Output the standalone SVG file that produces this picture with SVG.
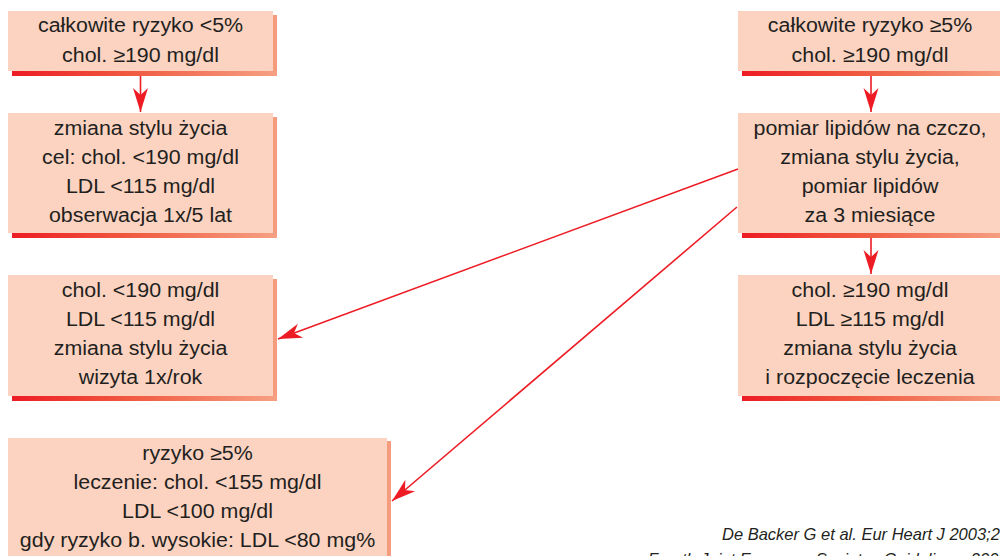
<svg xmlns="http://www.w3.org/2000/svg" width="1000" height="556" viewBox="0 0 1000 556">
<defs>
<linearGradient id="shade" x1="0" y1="0" x2="1" y2="0">
<stop offset="0" stop-color="#ed1c24"/>
<stop offset="0.45" stop-color="#f05a40"/>
<stop offset="1" stop-color="#f6a083"/>
</linearGradient>
<marker id="arr" markerUnits="userSpaceOnUse" markerWidth="30" markerHeight="20" viewBox="-26 -10 30 20" refX="0" refY="0" orient="auto">
<path d="M0,0 L-24,-7.5 L-17,0 L-24,7.5 Z" fill="#ed1c24"/>
</marker>
<style>
.box{fill:#fbd3c0}
.sr{fill:#f69c7e}
.sb{fill:url(#shade)}
.t{font-family:"Liberation Sans",Arial,sans-serif;font-size:20px;fill:#231f20;text-anchor:middle}
.ln{stroke:#ed1c24;stroke-width:1.6;fill:none;marker-end:url(#arr)}
.fn{font-family:"Liberation Sans",Arial,sans-serif;font-size:16.5px;font-style:italic;fill:#231f20}
</style>
</defs>
<rect width="1000" height="556" fill="#ffffff"/>

<g id="connectors">
<line class="ln" x1="140.5" y1="76" x2="140.5" y2="112"/>
<line class="ln" x1="871" y1="76" x2="871" y2="112"/>
<line class="ln" x1="871" y1="238" x2="871" y2="274"/>
<line class="ln" x1="738" y1="169" x2="278" y2="339"/>
<line class="ln" x1="737" y1="207" x2="392" y2="501"/>
</g>

<g id="n1">
<rect class="sr" x="273" y="15" width="4" height="61"/>
<rect class="sb" x="12" y="71" width="265" height="5"/>
<rect class="box" x="8" y="11" width="265" height="60"/>
<g transform="translate(140.5 0) scale(1.07 1)">
<text class="t" x="0" y="32">całkowite ryzyko &lt;5%</text>
<text class="t" x="0" y="62">chol. ≥190 mg/dl</text>
</g>
</g>

<g id="n2">
<rect class="sr" x="273" y="117" width="4" height="121"/>
<rect class="sb" x="12" y="233" width="265" height="5"/>
<rect class="box" x="8" y="113" width="265" height="120"/>
<g transform="translate(140.5 0) scale(1.07 1)">
<text class="t" x="0" y="135">zmiana stylu życia</text>
<text class="t" x="0" y="164">cel: chol. &lt;190 mg/dl</text>
<text class="t" x="0" y="193">LDL &lt;115 mg/dl</text>
<text class="t" x="0" y="222">obserwacja 1x/5 lat</text>
</g>
</g>

<g id="n3">
<rect class="sr" x="273" y="279" width="4" height="121"/>
<rect class="sb" x="12" y="396" width="265" height="5"/>
<rect class="box" x="8" y="275" width="265" height="121"/>
<g transform="translate(140.5 0) scale(1.07 1)">
<text class="t" x="0" y="297">chol. &lt;190 mg/dl</text>
<text class="t" x="0" y="326">LDL &lt;115 mg/dl</text>
<text class="t" x="0" y="355">zmiana stylu życia</text>
<text class="t" x="0" y="384">wizyta 1x/rok</text>
</g>
</g>

<g id="n4">
<rect class="sr" x="387" y="441" width="4" height="130"/>
<rect class="box" x="8" y="438" width="379" height="130"/>
<g transform="translate(197.5 0) scale(1.07 1)">
<text class="t" x="0" y="460">ryzyko ≥5%</text>
<text class="t" x="0" y="489">leczenie: chol. &lt;155 mg/dl</text>
<text class="t" x="0" y="518">LDL &lt;100 mg/dl</text>
<text class="t" x="0" y="547">gdy ryzyko b. wysokie: LDL &lt;80 mg%</text>
</g>
</g>

<g id="n5">
<rect class="sr" x="1003" y="15" width="4" height="61"/>
<rect class="sb" x="742" y="71" width="265" height="5"/>
<rect class="box" x="738" y="11" width="265" height="60"/>
<g transform="translate(870 0) scale(1.07 1)">
<text class="t" x="0" y="32">całkowite ryzyko ≥5%</text>
<text class="t" x="0" y="62">chol. ≥190 mg/dl</text>
</g>
</g>

<g id="n6">
<rect class="sr" x="1003" y="117" width="4" height="121"/>
<rect class="sb" x="742" y="233" width="265" height="5"/>
<rect class="box" x="738" y="113" width="265" height="120"/>
<g transform="translate(870 0) scale(1.07 1)">
<text class="t" x="0" y="135">pomiar lipidów na czczo,</text>
<text class="t" x="0" y="164">zmiana stylu życia,</text>
<text class="t" x="0" y="193">pomiar lipidów</text>
<text class="t" x="0" y="222">za 3 miesiące</text>
</g>
</g>

<g id="n7">
<rect class="sr" x="1003" y="279" width="4" height="121"/>
<rect class="sb" x="742" y="396" width="265" height="5"/>
<rect class="box" x="738" y="275" width="265" height="121"/>
<g transform="translate(870 0) scale(1.07 1)">
<text class="t" x="0" y="297">chol. ≥190 mg/dl</text>
<text class="t" x="0" y="326">LDL ≥115 mg/dl</text>
<text class="t" x="0" y="355">zmiana stylu życia</text>
<text class="t" x="0" y="384">i rozpoczęcie leczenia</text>
</g>
</g>

<g id="footnote">
<text class="fn" x="722" y="540">De Backer G et al. Eur Heart J 2003;24</text>
<text class="fn" x="648" y="565">Fourth Joint European Societes Guidelines, 2003</text>
</g>
</svg>
